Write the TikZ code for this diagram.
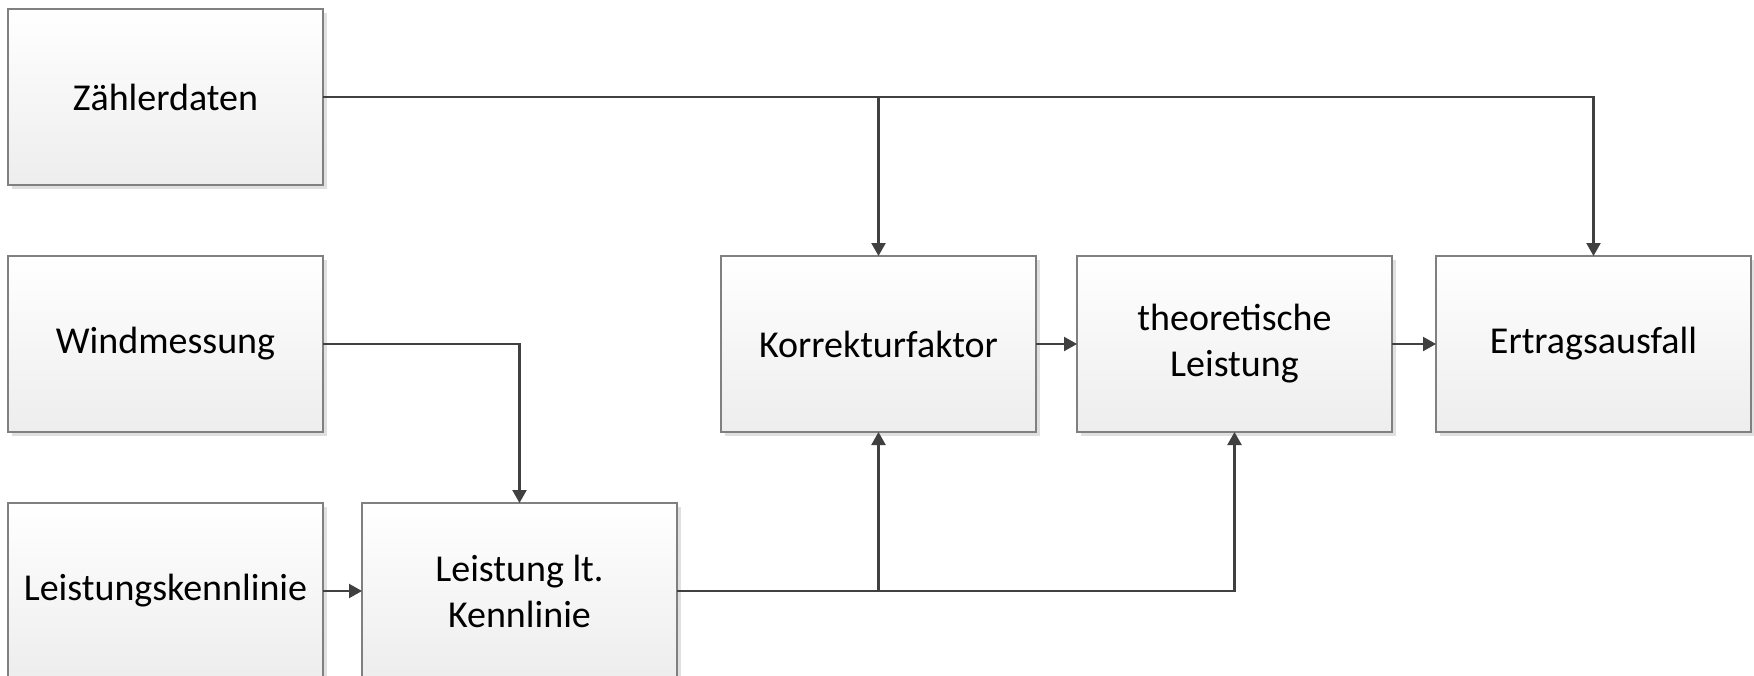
\documentclass[tikz,border=0pt]{standalone}
\usepackage{fontspec}
\setmainfont{Carlito}
\usetikzlibrary{positioning,arrows.meta,shadows}
\definecolor{linegray}{HTML}{404040}
\definecolor{boxgray}{HTML}{808080}
\tikzset{
  kasten/.style={draw=boxgray,line width=0.7bp,top color=white,bottom color=black!7,
    minimum width=157.5bp,minimum height=88bp,align=center,inner sep=0pt,outer sep=0pt,
    font=\fontsize{19bp}{23bp}\selectfont,
    drop shadow={shadow xshift=1.8bp,shadow yshift=-1.8bp,fill=black!12,opacity=1}},
  pfeil/.style={draw=linegray,line width=1.1bp,-{Triangle[length=6.5bp,width=7bp]}}
}
\begin{document}
\begin{tikzpicture}
                \useasboundingbox (0,0) rectangle (877bp,-338bp);
                \node[kasten,anchor=north west](1) at (4bp,-4.5bp){Zählerdaten};
                \node[kasten](2)[below=35.5bp of 1]{Windmessung};
                \node[kasten](3)[below=35.5bp of 2]{Leistungskennlinie};
                \node[kasten](4)[right=19.5bp of 3]{Leistung lt.\\Kennlinie};
                \node[kasten](5)[above right=35.5bp and 22bp of 4]{Korrekturfaktor};
                \node[kasten](6)[right=20.5bp of 5]{theoretische\\Leistung};
                \node[kasten](7)[right=22bp of 6]{Ertragsausfall};
                \draw[pfeil] (1) -| (5);
                \draw[pfeil] (1) -| (7);
                \draw[pfeil] (2) -| (4);
                \draw[pfeil] (3) -- (4);
                \draw[pfeil] (4) -| (5);
                \draw[pfeil] (4) -| (6);
                \draw[pfeil] (5) -- (6);
                \draw[pfeil] (6) -- (7);
            \end{tikzpicture}
\end{document}
